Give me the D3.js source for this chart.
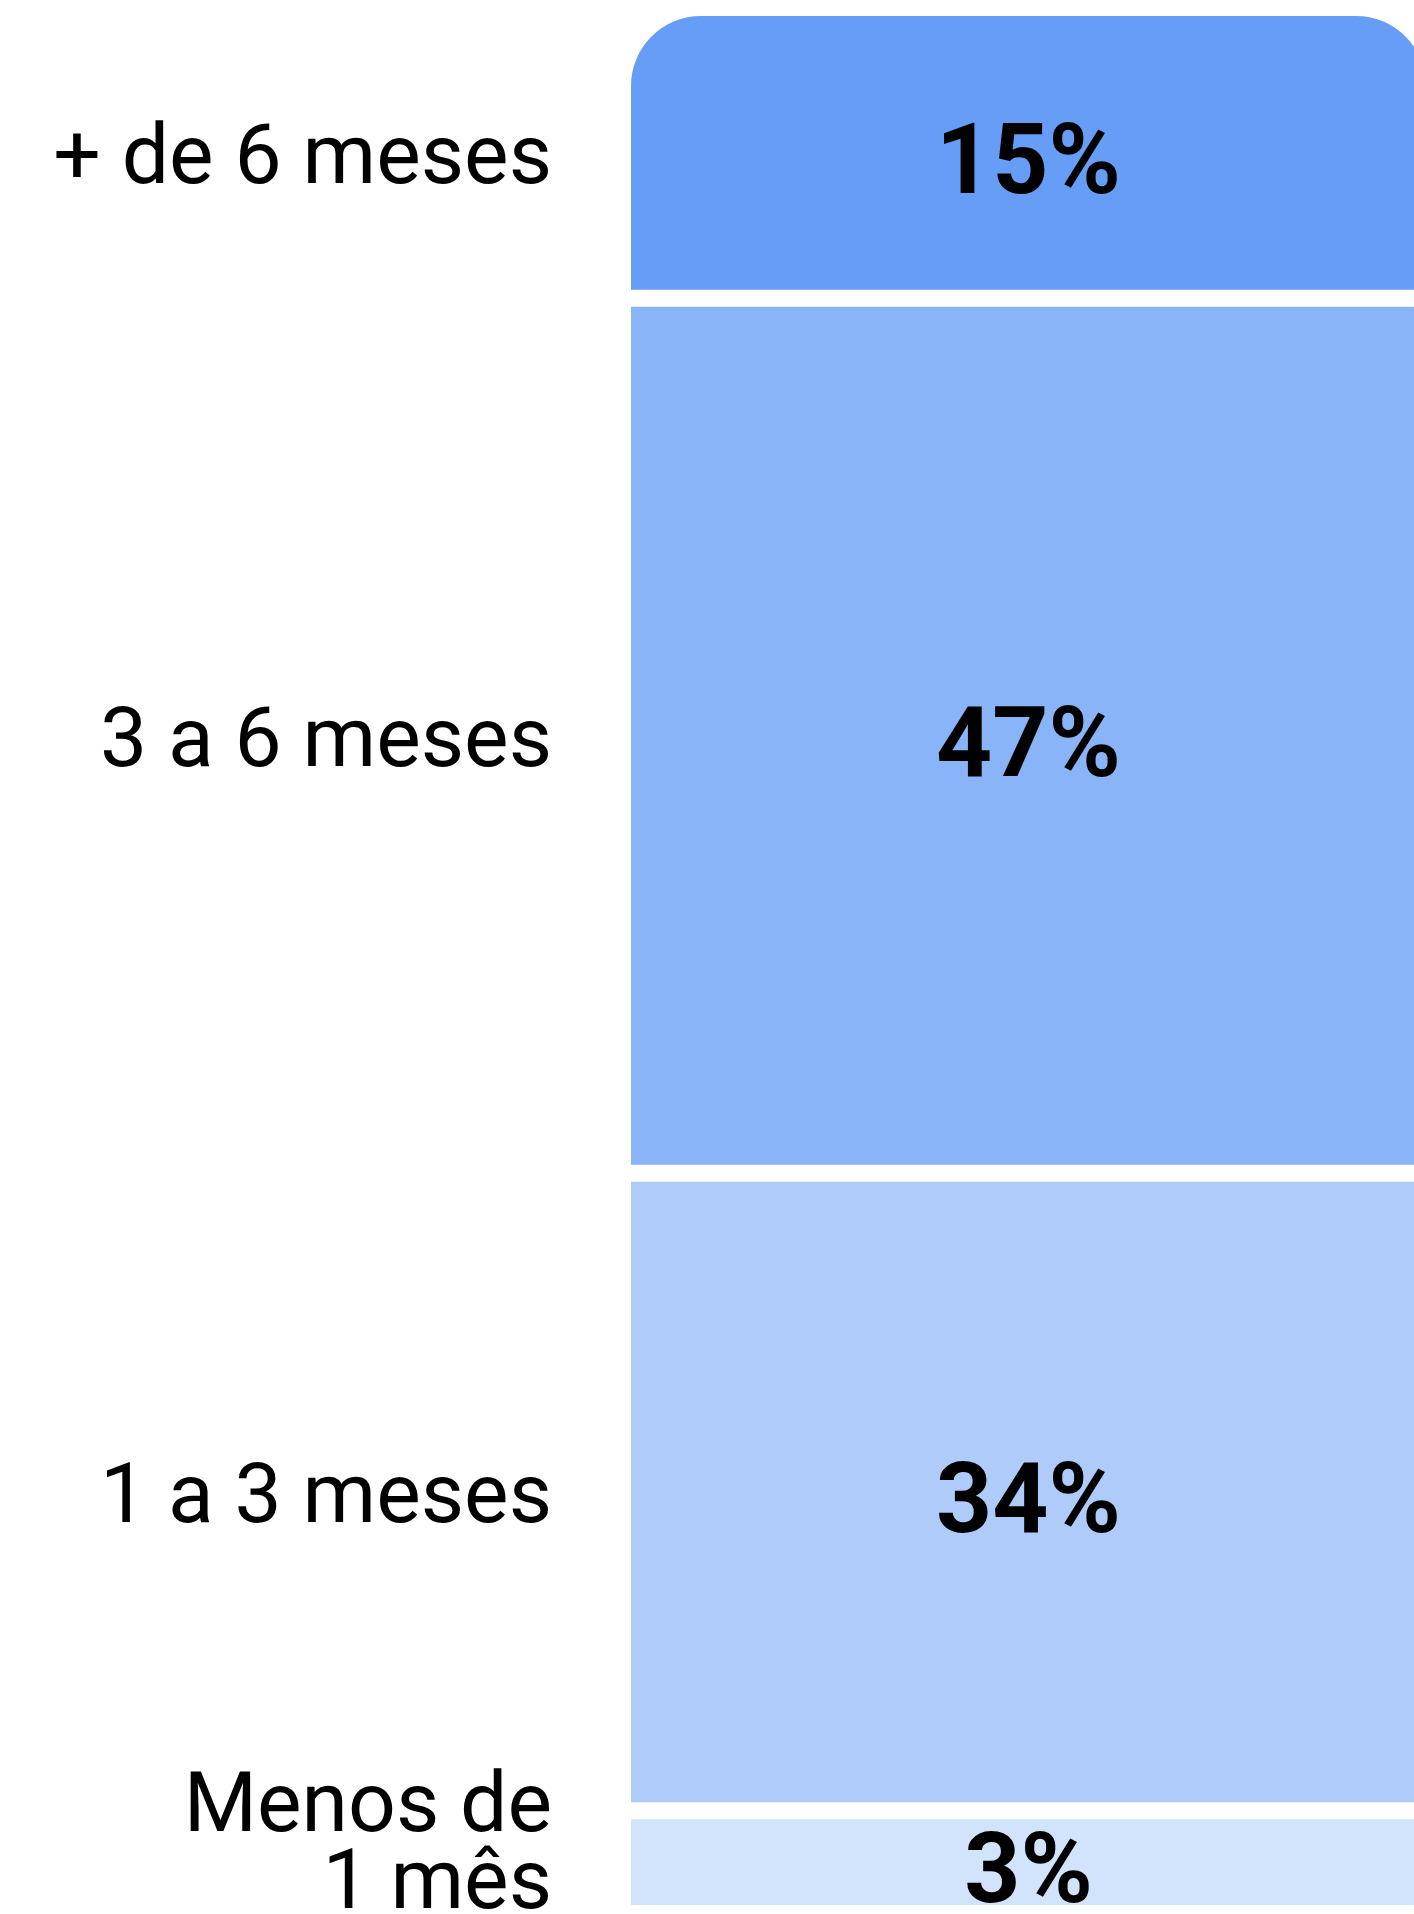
<!DOCTYPE html>
<html>
<head>
<meta charset="utf-8">
<script src="https://cdnjs.cloudflare.com/ajax/libs/d3/7.8.5/d3.min.js"></script>
<style>
  body { margin: 0; background: #fff; }
  svg { display: block; }
  text { font-family: Roboto, "Open Sans", sans-serif; fill: #000; }
</style>
</head>
<body>
<svg id="chart" width="1414" height="1914"></svg>
<script>
// data
var categories = ['+ de 6 meses', '3 a 6 meses', '1 a 3 meses', 'Menos de 1 mês'];
var category_lines = [['+ de 6 meses'], ['3 a 6 meses'], ['1 a 3 meses'], ['Menos de', '1 mês']];
var values = [15, 47, 34, 3];
var value_labels = ['15%', '47%', '34%', '3%'];
var colors = ['#669df6', '#8ab4f8', '#aecbfa', '#d2e3fc'];

var min_share = 4.7; // very small segments get a minimum height so the label fits
var gap = 17;
var radius = 70;
var bar = {left: 631, right: 1426, top: 16, bottom: 1905};
var label_right = 552;

draw_chart();

function draw_chart(){
    var svg = d3.select('#chart');

    var shown = values.map(function(v){ return Math.max(v, min_share); });
    var total = d3.sum(shown);
    var y_scale = d3.scaleLinear()
        .domain([0, total])
        .range([0, bar.bottom - bar.top - gap * (values.length - 1)]);

    var segments = [];
    var cum = 0;
    shown.forEach(function(v, i){
        var y0 = bar.top + y_scale(cum) + i * gap;
        var y1 = bar.top + y_scale(cum + v) + i * gap;
        segments.push({i: i, y0: y0, y1: y1, value: values[i], label: value_labels[i],
                       lines: category_lines[i], color: colors[i]});
        cum += v;
    });

    var g = svg.append('g');

    g.selectAll('.seg')
        .data(segments)
        .enter()
        .append('path')
        .attr('class', 'seg')
        .attr('fill', function(d){ return d.color; })
        .attr('d', function(d){
            var x0 = bar.left, x1 = bar.right;
            if(d.i === 0){
                // only the top of the stack is rounded
                var p = d3.path();
                p.moveTo(x0, d.y1);
                p.lineTo(x0, d.y0 + radius);
                p.arcTo(x0, d.y0, x0 + radius, d.y0, radius);
                p.lineTo(x1 - radius, d.y0);
                p.arcTo(x1, d.y0, x1, d.y0 + radius, radius);
                p.lineTo(x1, d.y1);
                p.closePath();
                return p.toString();
            }
            return 'M' + x0 + ',' + d.y0 + 'H' + x1 + 'V' + d.y1 + 'H' + x0 + 'Z';
        });

    // value labels
    g.selectAll('.val')
        .data(segments)
        .enter()
        .append('text')
        .attr('class', 'val')
        .attr('x', (bar.left + bar.right) / 2)
        .attr('y', function(d){ return (d.y0 + d.y1) / 2 + 40; })
        .attr('text-anchor', 'middle')
        .style('font-size', '98px')
        .style('font-weight', 'bold')
        .text(function(d){ return d.label; });

    // category labels, multi-line ones sit so their last line drops below the middle
    var line_h = 77;
    var cats = g.selectAll('.cat')
        .data(segments)
        .enter()
        .append('text')
        .attr('class', 'cat')
        .attr('text-anchor', 'end')
        .style('font-size', '84px')
        .attr('y', function(d){
            var mid = (d.y0 + d.y1) / 2;
            var n = d.lines.length - 1;
            return mid + 30 + n * 16 - n * line_h;
        });
    cats.selectAll('tspan')
        .data(function(d){ return d.lines; })
        .enter()
        .append('tspan')
        .attr('x', label_right)
        .attr('dy', function(d, i){ return i === 0 ? 0 : line_h; })
        .text(function(d){ return d; });
}
</script>
</body>
</html>
